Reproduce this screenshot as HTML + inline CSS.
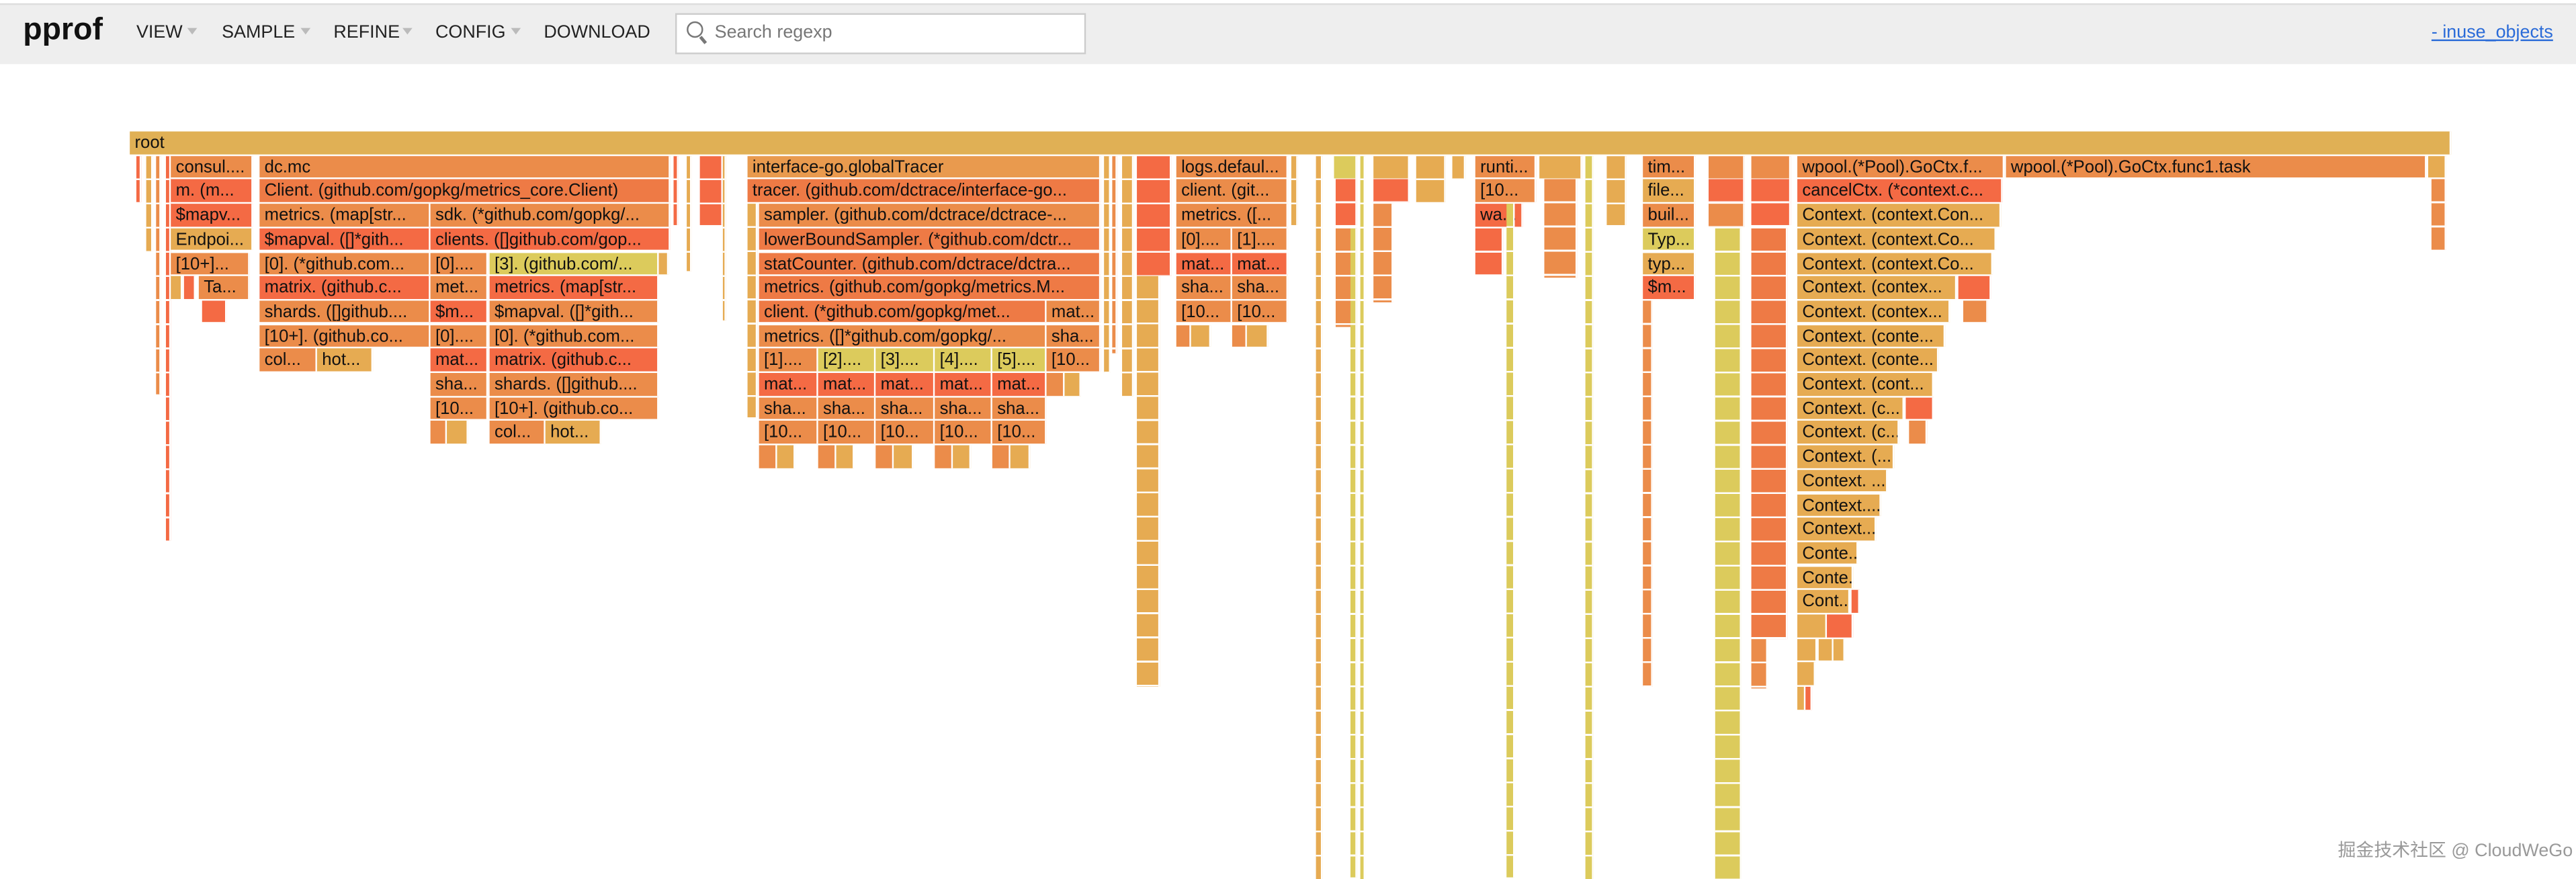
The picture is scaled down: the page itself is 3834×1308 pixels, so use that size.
<!DOCTYPE html>
<html><head><meta charset="utf-8"><style>
html,body{margin:0;padding:0;background:#fff;width:3834px;height:1308px;overflow:hidden}
#s{position:absolute;left:0;top:0;width:1568px;height:535px;transform:scale(2.4452,2.4449);transform-origin:0 0;font-family:"Liberation Sans","Noto Sans CJK SC",sans-serif}
.hd{position:absolute;left:0;top:1.5px;width:1568px;height:36.5px;background:#eee;border-top:1px solid #ddd}
.m{position:absolute;top:14px;font-size:11px;color:#222}
.ar{position:absolute;top:17px;width:0;height:0;border-left:3.5px solid transparent;border-right:3.5px solid transparent;border-top:4px solid #bbb}
.f{position:absolute;height:13.6px;box-sizing:border-box;font-size:10.5px;line-height:14px;padding-left:3px;white-space:nowrap;overflow:hidden;color:#111;border-right:1px solid #fff}
.o{background:#eb8c4a}.r{background:#f46a44}.y{background:#dccb5c}.t{background:#e6ab52}.q{background:#ee7a45}
.c{position:absolute;box-sizing:border-box;border-right:1px solid #fff;background-image:repeating-linear-gradient(to bottom,transparent 0 13.6px,#fff 13.6px 14.7px)}
</style></head><body><div id="s">
<div class="hd"></div>
<div style="position:absolute;left:14px;top:8px;font-size:19px;font-weight:bold;color:#111">pprof</div>
<div class="m" style="left:83px">VIEW</div><div class="ar" style="left:114px"></div>
<div class="m" style="left:135px">SAMPLE</div><div class="ar" style="left:183px"></div>
<div class="m" style="left:203px">REFINE</div><div class="ar" style="left:245px"></div>
<div class="m" style="left:265px">CONFIG</div><div class="ar" style="left:311px"></div>
<div class="m" style="left:331px">DOWNLOAD</div>
<div style="position:absolute;left:411px;top:8px;width:250px;height:25px;box-sizing:border-box;background:#fff;border:1px solid #ccc"></div>
<div style="position:absolute;left:418px;top:13px;width:8px;height:8px;border:1.3px solid #777;border-radius:50%"></div>
<div style="position:absolute;left:427px;top:22px;width:1.5px;height:5px;background:#777;transform:rotate(-40deg)"></div>
<div class="m" style="left:435px;color:#777">Search regexp</div>
<div class="m" style="left:1480px;color:#2a6bd8;text-decoration:underline">- inuse_objects</div>

<div class="f" style="left:79px;top:80px;width:1413px;background:#e0b055">root</div>

<!-- left slivers -->
<div class="c" style="left:83px;top:94.7px;width:3px;height:28px;background-color:#f46a44"></div>
<div class="c" style="left:89px;top:94.7px;width:4px;height:58px;background-color:#e6ab52"></div>
<div class="c" style="left:95px;top:94.7px;width:3px;height:145px;background-color:#eb8c4a"></div>
<div class="c" style="left:101px;top:94.7px;width:2.5px;height:234px;background-color:#f46a44"></div>
<div class="f o" style="left:104px;top:94.7px;width:50px">consul....</div>
<div class="f r" style="left:104px;top:109.4px;width:50px">m. (m...</div>
<div class="f r" style="left:104px;top:124.1px;width:50px">$mapv...</div>
<div class="f t" style="left:104px;top:138.8px;width:50px">Endpoi...</div>
<div class="f o" style="left:104px;top:153.5px;width:48px">[10+]...</div>
<div class="f t" style="left:104px;top:168.2px;width:7px"></div>
<div class="f r" style="left:112px;top:168.2px;width:7px"></div>
<div class="f o" style="left:121px;top:168.2px;width:31px">Ta...</div>
<div class="f r" style="left:123px;top:182.9px;width:15px"></div>

<!-- dc.mc -->
<div class="f o" style="left:158px;top:94.7px;width:250px">dc.mc</div>
<div class="f q" style="left:158px;top:109.4px;width:250px">Client. (github.com/gopkg/metrics_core.Client)</div>
<div class="f o" style="left:158px;top:124.1px;width:104px">metrics. (map[str...</div>
<div class="f o" style="left:262px;top:124.1px;width:146px">sdk. (*github.com/gopkg/...</div>
<div class="f r" style="left:158px;top:138.8px;width:104px">$mapval. ([]*gith...</div>
<div class="f r" style="left:262px;top:138.8px;width:146px">clients. ([]github.com/gop...</div>
<div class="f o" style="left:158px;top:153.5px;width:104px">[0]. (*github.com...</div>
<div class="f o" style="left:262px;top:153.5px;width:35px">[0]....</div>
<div class="f y" style="left:298px;top:153.5px;width:103px">[3]. (github.com/...</div>
<div class="f t" style="left:401px;top:153.5px;width:6px"></div>
<div class="f r" style="left:158px;top:168.2px;width:104px">matrix. (github.c...</div>
<div class="f o" style="left:262px;top:168.2px;width:35px">met...</div>
<div class="f r" style="left:298px;top:168.2px;width:103px">metrics. (map[str...</div>
<div class="f o" style="left:158px;top:182.9px;width:104px">shards. ([]github....</div>
<div class="f r" style="left:262px;top:182.9px;width:35px">$m...</div>
<div class="f o" style="left:298px;top:182.9px;width:103px">$mapval. ([]*gith...</div>
<div class="f o" style="left:158px;top:197.6px;width:104px">[10+]. (github.co...</div>
<div class="f o" style="left:262px;top:197.6px;width:35px">[0]....</div>
<div class="f o" style="left:298px;top:197.6px;width:103px">[0]. (*github.com...</div>
<div class="f o" style="left:158px;top:212.3px;width:35px">col...</div>
<div class="f t" style="left:193px;top:212.3px;width:34px">hot...</div>
<div class="f r" style="left:262px;top:212.3px;width:35px">mat...</div>
<div class="f r" style="left:298px;top:212.3px;width:103px">matrix. (github.c...</div>
<div class="f o" style="left:262px;top:227px;width:35px">sha...</div>
<div class="f o" style="left:298px;top:227px;width:103px">shards. ([]github....</div>
<div class="f o" style="left:262px;top:241.7px;width:35px">[10...</div>
<div class="f o" style="left:298px;top:241.7px;width:103px">[10+]. (github.co...</div>
<div class="f o" style="left:262px;top:256.4px;width:10px"></div>
<div class="f t" style="left:272px;top:256.4px;width:13px"></div>
<div class="f o" style="left:298px;top:256.4px;width:34px">col...</div>
<div class="f t" style="left:332px;top:256.4px;width:34px">hot...</div>
<div class="c" style="left:410px;top:94.7px;width:3px;height:42px;background-color:#f46a44"></div>
<div class="c" style="left:418px;top:94.7px;width:3px;height:70px;background-color:#e6ab52"></div>
<div class="c" style="left:426px;top:94.7px;width:14px;height:42px;background-color:#f46a44"></div>
<div class="c" style="left:440px;top:94.7px;width:2px;height:100px;background-color:#e6ab52"></div>

<!-- interface-go -->
<div class="f t" style="left:455px;top:94.7px;width:215px;background:#e99a4e">interface-go.globalTracer</div>
<div class="f q" style="left:455px;top:109.4px;width:215px">tracer. (github.com/dctrace/interface-go...</div>
<div class="c" style="left:455px;top:124.1px;width:6px;height:130px;background-color:#e6ab52"></div>
<div class="f o" style="left:462px;top:124.1px;width:208px">sampler. (github.com/dctrace/dctrace-...</div>
<div class="f q" style="left:462px;top:138.8px;width:208px">lowerBoundSampler. (*github.com/dctr...</div>
<div class="f q" style="left:462px;top:153.5px;width:208px">statCounter. (github.com/dctrace/dctra...</div>
<div class="f q" style="left:462px;top:168.2px;width:208px">metrics. (github.com/gopkg/metrics.M...</div>
<div class="f q" style="left:462px;top:182.9px;width:175px">client. (*github.com/gopkg/met...</div>
<div class="f o" style="left:637px;top:182.9px;width:33px">mat...</div>
<div class="f o" style="left:462px;top:197.6px;width:175px">metrics. ([]*github.com/gopkg/...</div>
<div class="f o" style="left:637px;top:197.6px;width:33px">sha...</div>
<div class="f o" style="left:462px;top:212.3px;width:36px">[1]....</div>
<div class="f y" style="left:498px;top:212.3px;width:35px">[2]....</div>
<div class="f y" style="left:533px;top:212.3px;width:36px">[3]....</div>
<div class="f y" style="left:569px;top:212.3px;width:35px">[4]....</div>
<div class="f y" style="left:604px;top:212.3px;width:33px">[5]....</div>
<div class="f o" style="left:637px;top:212.3px;width:33px">[10...</div>
<div class="f r" style="left:462px;top:227px;width:36px">mat...</div>
<div class="f r" style="left:498px;top:227px;width:35px">mat...</div>
<div class="f r" style="left:533px;top:227px;width:36px">mat...</div>
<div class="f r" style="left:569px;top:227px;width:35px">mat...</div>
<div class="f r" style="left:604px;top:227px;width:33px">mat...</div>
<div class="f o" style="left:637px;top:227px;width:11px"></div>
<div class="f t" style="left:648px;top:227px;width:10px"></div>
<div class="f o" style="left:462px;top:241.7px;width:36px">sha...</div>
<div class="f o" style="left:498px;top:241.7px;width:35px">sha...</div>
<div class="f o" style="left:533px;top:241.7px;width:36px">sha...</div>
<div class="f o" style="left:569px;top:241.7px;width:35px">sha...</div>
<div class="f o" style="left:604px;top:241.7px;width:33px">sha...</div>
<div class="f o" style="left:462px;top:256.4px;width:36px">[10...</div>
<div class="f o" style="left:498px;top:256.4px;width:35px">[10...</div>
<div class="f o" style="left:533px;top:256.4px;width:36px">[10...</div>
<div class="f o" style="left:569px;top:256.4px;width:35px">[10...</div>
<div class="f o" style="left:604px;top:256.4px;width:33px">[10...</div>
<div class="f o" style="left:462px;top:271.1px;width:11px"></div><div class="f t" style="left:473px;top:271.1px;width:11px"></div>
<div class="f o" style="left:498px;top:271.1px;width:11px"></div><div class="f t" style="left:509px;top:271.1px;width:11px"></div>
<div class="f o" style="left:533px;top:271.1px;width:11px"></div><div class="f t" style="left:544px;top:271.1px;width:12px"></div>
<div class="f o" style="left:569px;top:271.1px;width:11px"></div><div class="f t" style="left:580px;top:271.1px;width:11px"></div>
<div class="f o" style="left:604px;top:271.1px;width:11px"></div><div class="f t" style="left:615px;top:271.1px;width:12px"></div>
<div class="c" style="left:672px;top:94.7px;width:4px;height:132px;background-color:#e6ab52"></div>
<div class="c" style="left:677px;top:94.7px;width:3px;height:120px;background-color:#eb8c4a"></div>
<div class="c" style="left:683px;top:94.7px;width:7px;height:146px;background-color:#e6ab52"></div>
<div class="c" style="left:692px;top:94.7px;width:21px;height:73px;background-color:#f46a44"></div>
<div class="c" style="left:692px;top:168.2px;width:14px;height:250px;background-color:#e6ab52"></div>

<!-- logs -->
<div class="f o" style="left:716px;top:94.7px;width:68px">logs.defaul...</div>
<div class="f o" style="left:716px;top:109.4px;width:68px">client. (git...</div>
<div class="f o" style="left:716px;top:124.1px;width:68px">metrics. ([...</div>
<div class="f o" style="left:716px;top:138.8px;width:34px">[0]....</div>
<div class="f o" style="left:750px;top:138.8px;width:34px">[1]....</div>
<div class="f r" style="left:716px;top:153.5px;width:34px">mat...</div>
<div class="f r" style="left:750px;top:153.5px;width:34px">mat...</div>
<div class="f o" style="left:716px;top:168.2px;width:34px">sha...</div>
<div class="f o" style="left:750px;top:168.2px;width:34px">sha...</div>
<div class="f o" style="left:716px;top:182.9px;width:34px">[10...</div>
<div class="f o" style="left:750px;top:182.9px;width:34px">[10...</div>
<div class="f o" style="left:716px;top:197.6px;width:9px"></div><div class="f t" style="left:725px;top:197.6px;width:12px"></div>
<div class="f o" style="left:750px;top:197.6px;width:9px"></div><div class="f t" style="left:759px;top:197.6px;width:13px"></div>

<!-- middle columns -->
<div class="c" style="left:786px;top:94.7px;width:4px;height:42px;background-color:#e6ab52"></div>
<div class="c" style="left:801px;top:94.7px;width:4px;height:440px;background-color:#e6ab52"></div>
<div class="c" style="left:812px;top:94.7px;width:14px;height:14px;background-color:#dccb5c"></div>
<div class="c" style="left:813px;top:109.4px;width:13px;height:28px;background-color:#f46a44"></div>
<div class="c" style="left:813px;top:138.8px;width:13px;height:60px;background-color:#eb8c4a"></div>
<div class="c" style="left:822px;top:138.8px;width:4px;height:395px;background-color:#dccb5c"></div>
<div class="c" style="left:828px;top:94.7px;width:3px;height:440px;background-color:#dccb5c"></div>
<div class="c" style="left:836px;top:94.7px;width:22px;height:14px;background-color:#e6ab52"></div>
<div class="c" style="left:836px;top:109.4px;width:22px;height:14px;background-color:#f46a44"></div>
<div class="c" style="left:836px;top:124.1px;width:12px;height:60px;background-color:#eb8c4a"></div>
<div class="c" style="left:862px;top:94.7px;width:18px;height:28px;background-color:#e6ab52"></div>
<div class="c" style="left:884px;top:94.7px;width:8px;height:14px;background-color:#e6ab52"></div>
<div class="f o" style="left:898px;top:94.7px;width:37px">runti...</div>
<div class="f o" style="left:898px;top:109.4px;width:37px">[10...</div>
<div class="f r" style="left:898px;top:124.1px;width:29px">wa...</div>
<div class="c" style="left:898px;top:138.8px;width:17px;height:28px;background-color:#f46a44"></div>
<div class="c" style="left:917px;top:124.1px;width:5px;height:410px;background-color:#dccb5c"></div>
<div class="c" style="left:937px;top:94.7px;width:26px;height:14px;background-color:#e6ab52"></div>
<div class="c" style="left:940px;top:109.4px;width:20px;height:60px;background-color:#eb8c4a"></div>
<div class="c" style="left:965px;top:94.7px;width:5px;height:440px;background-color:#dccb5c"></div>
<div class="c" style="left:978px;top:94.7px;width:12px;height:42px;background-color:#e6ab52"></div>
<div class="f o" style="left:1000px;top:94.7px;width:32px">tim...</div>
<div class="f t" style="left:1000px;top:109.4px;width:32px">file...</div>
<div class="f o" style="left:1000px;top:124.1px;width:32px">buil...</div>
<div class="f y" style="left:1000px;top:138.8px;width:32px">Typ...</div>
<div class="f t" style="left:1000px;top:153.5px;width:32px">typ...</div>
<div class="f r" style="left:1000px;top:168.2px;width:32px">$m...</div>
<div class="c" style="left:1000px;top:182.9px;width:6px;height:235px;background-color:#eb8c4a"></div>
<div class="c" style="left:1040px;top:94.7px;width:22px;height:14px;background-color:#eb8c4a"></div>
<div class="c" style="left:1040px;top:109.4px;width:22px;height:14px;background-color:#f46a44"></div>
<div class="c" style="left:1040px;top:124.1px;width:22px;height:14px;background-color:#eb8c4a"></div>
<div class="c" style="left:1044px;top:138.8px;width:16px;height:396px;background-color:#dccb5c"></div>
<div class="c" style="left:1066px;top:94.7px;width:24px;height:14px;background-color:#eb8c4a"></div>
<div class="c" style="left:1066px;top:109.4px;width:24px;height:28px;background-color:#f46a44"></div>
<div class="c" style="left:1066px;top:138.8px;width:22px;height:250px;background-color:#ee7a45"></div>
<div class="c" style="left:1066px;top:388.7px;width:10px;height:30px;background-color:#eb8c4a"></div>

<!-- wpool -->
<div class="f o" style="left:1094px;top:94.7px;width:126px">wpool.(*Pool).GoCtx.f...</div>
<div class="f o" style="left:1221px;top:94.7px;width:256px">wpool.(*Pool).GoCtx.func1.task</div>
<div class="f t" style="left:1478px;top:94.7px;width:11px"></div>
<div class="c" style="left:1480px;top:109.4px;width:9px;height:43px;background-color:#eb8c4a"></div>
<div class="f r" style="left:1094px;top:109.4px;width:125px">cancelCtx. (*context.c...</div>
<div class="f t" style="left:1094px;top:124.1px;width:124px">Context. (context.Con...</div>
<div class="f t" style="left:1094px;top:138.8px;width:121px">Context. (context.Co...</div>
<div class="f t" style="left:1094px;top:153.5px;width:119px">Context. (context.Co...</div>
<div class="f t" style="left:1094px;top:168.2px;width:97px">Context. (contex...</div>
<div class="f r" style="left:1192px;top:168.2px;width:20px"></div>
<div class="f t" style="left:1094px;top:182.9px;width:93px">Context. (contex...</div>
<div class="f o" style="left:1195px;top:182.9px;width:15px"></div>
<div class="f t" style="left:1094px;top:197.6px;width:90px">Context. (conte...</div>
<div class="f t" style="left:1094px;top:212.3px;width:86px">Context. (conte...</div>
<div class="f t" style="left:1094px;top:227px;width:83px">Context. (cont...</div>
<div class="f t" style="left:1094px;top:241.7px;width:65px">Context. (c...</div>
<div class="f r" style="left:1160px;top:241.7px;width:17px"></div>
<div class="f t" style="left:1094px;top:256.4px;width:62px">Context. (c...</div>
<div class="f o" style="left:1162px;top:256.4px;width:11px"></div>
<div class="f t" style="left:1094px;top:271.1px;width:59px">Context. (...</div>
<div class="f t" style="left:1094px;top:285.8px;width:55px">Context. ...</div>
<div class="f t" style="left:1094px;top:300.5px;width:51px">Context....</div>
<div class="f t" style="left:1094px;top:315.2px;width:48px">Context...</div>
<div class="f t" style="left:1094px;top:329.9px;width:37px">Conte...</div>
<div class="f t" style="left:1094px;top:344.6px;width:34px">Conte...</div>
<div class="f t" style="left:1094px;top:359.3px;width:32px">Cont...</div>
<div class="f r" style="left:1127px;top:359.3px;width:5px"></div>
<div class="f t" style="left:1094px;top:374px;width:18px"></div>
<div class="f r" style="left:1112px;top:374px;width:16px"></div>
<div class="f t" style="left:1094px;top:388.7px;width:12px"></div>
<div class="f t" style="left:1107px;top:388.7px;width:9px"></div>
<div class="f t" style="left:1116px;top:388.7px;width:7px"></div>
<div class="f t" style="left:1094px;top:403.4px;width:11px"></div>
<div class="f t" style="left:1094px;top:418.1px;width:5px"></div>
<div class="f r" style="left:1099px;top:418.1px;width:4px"></div>

<div style="position:absolute;left:1423px;top:509px;font-size:11px;color:#999">掘金技术社区 @ CloudWeGo</div>
</div></body></html>
